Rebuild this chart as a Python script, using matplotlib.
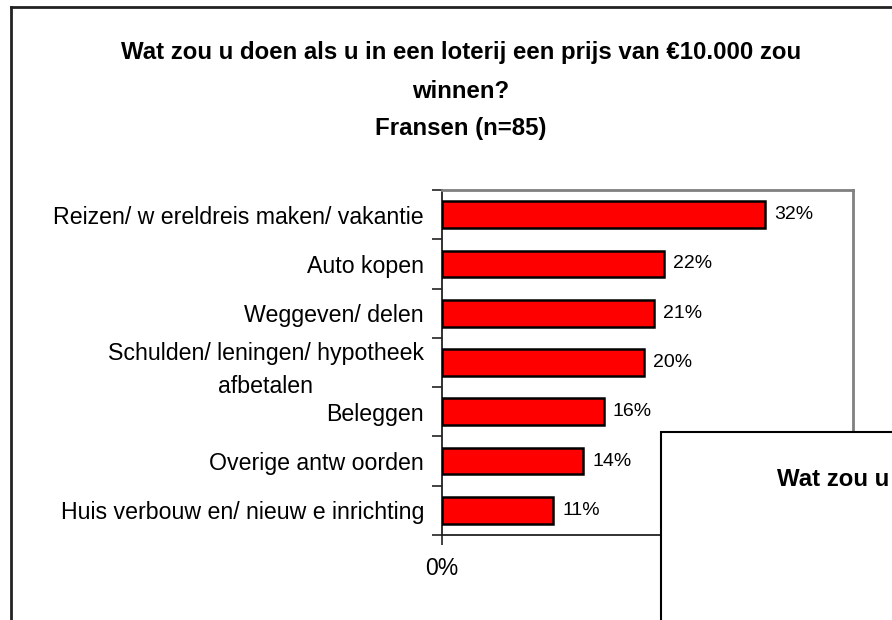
import matplotlib
matplotlib.use("Agg")
import matplotlib.pyplot as plt
from matplotlib.patches import Rectangle
from matplotlib.lines import Line2D
import numpy as np

categories = [
    "Reizen/ w ereldreis maken/ vakantie",
    "Auto kopen",
    "Weggeven/ delen",
    "Schulden/ leningen/ hypotheek\nafbetalen",
    "Beleggen",
    "Overige antw oorden",
    "Huis verbouw en/ nieuw e inrichting",
]
values = [32, 22, 21, 20, 16, 14, 11]
value_labels = ["32%", "22%", "21%", "20%", "16%", "14%", "11%"]
title_lines = ["Wat zou u doen als u in een loterij een prijs van €10.000 zou", "winnen?", "Fransen (n=85)"]
overlap_title = "Wat zou u"

W, H = 892, 620
fig = plt.figure(figsize=(W / 100, H / 100), dpi=100)
fig.patch.set_facecolor("white")

font = ["Liberation Sans", "DejaVu Sans"]

def fx(px):
    return px / W

def fy(py):
    return 1 - py / H

ax = fig.add_axes([fx(442), fy(535), fx(853) - fx(442), fy(190) - fy(535)])
y = np.arange(len(categories))
ax.barh(y, values, height=0.54, color="#ff0000", edgecolor="black", linewidth=1.8, zorder=3)
ax.set_xlim(0, 40.7)
ax.set_ylim(len(categories) - 0.5, -0.5)

for s in ["top", "right"]:
    ax.spines[s].set_color("#808080")
    ax.spines[s].set_linewidth(2)
for s in ["left", "bottom"]:
    ax.spines[s].set_color("#222222")
    ax.spines[s].set_linewidth(1.3)

ax.set_yticks(y)
ax.set_yticklabels(categories, family=font, fontsize=16.7, color="black")
ax.tick_params(axis="y", which="major", length=0, pad=13)
for t in ax.get_yticklabels():
    t.set_multialignment("center")
    t.set_linespacing(1.55)
ax.set_yticks(np.arange(-0.5, len(categories), 1.0), minor=True)
ax.tick_params(axis="y", which="minor", length=7, width=1.2, color="#222222", direction="out")

ax.set_xticks([0])
ax.set_xticklabels(["0%"], family=font, fontsize=16.5)
ax.tick_params(axis="x", length=7, width=1.2, color="#222222", pad=9)

for yi, v, lab in zip(y, values, value_labels):
    ax.annotate(lab, xy=(v, yi), xytext=(6.5, 0), textcoords="offset points",
                va="center", ha="left", fontsize=14, family=font, color="black")

# Titles
title_y = [53, 91, 129]
for line, ty in zip(title_lines, title_y):
    fig.text(fx(461), fy(ty), line, ha="center", va="center", fontsize=17.3,
             fontweight="bold", family=font, color="black")

# Outer frame (left and top edges)
fig.add_artist(Line2D([fx(11), fx(11)], [fy(7), -0.1], color="#222222", linewidth=2))
fig.add_artist(Line2D([fx(11), 1.1], [fy(7), fy(7)], color="#222222", linewidth=2))

# Overlapping chart frame
rect = Rectangle((fx(661), -0.1), 1.0, fy(432) + 0.1, transform=fig.transFigure,
                 facecolor="white", edgecolor="black", linewidth=1.5, zorder=5)
fig.add_artist(rect)
fig.text(fx(889), fy(480), overlap_title, ha="right", va="center", fontsize=17.3,
         fontweight="bold", family=font, color="black", zorder=6)

fig.savefig("out.png", dpi=100, facecolor="white")
